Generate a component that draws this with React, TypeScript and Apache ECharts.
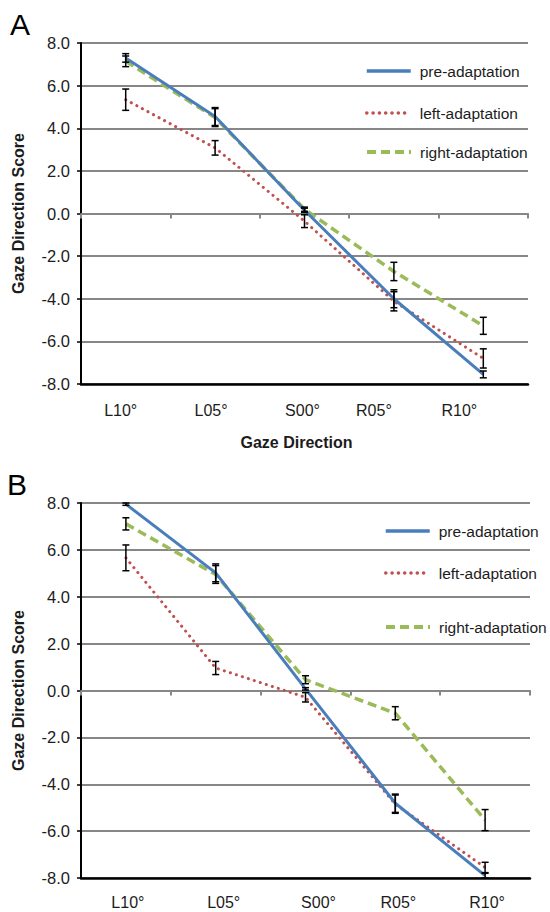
import React, { useEffect, useRef } from "react";
import * as echarts from "echarts";

const categories = ["L10°", "L05°", "S00°", "R05°", "R10°"];
const yTicks = [-8, -6, -4, -2, 0, 2, 4, 6, 8];

// Panel A
const aPre = [7.3, 4.55, 0.15, -4.0, -7.55];
const aLeft = [5.34, 3.08, -0.36, -4.12, -6.8];
const aRight = [7.14, 4.5, 0.2, -2.72, -5.27];
const aPreErr = [0.2, 0.42, 0.1, 0.42, 0.16];
const aLeftErr = [0.5, 0.34, 0.3, 0.45, 0.45];
const aRightErr = [0.25, 0.42, 0.1, 0.43, 0.4];

// Panel B
const bPre = [7.95, 5.02, 0.07, -4.81, -7.9];
const bLeft = [5.66, 0.96, -0.29, -4.85, -7.55];
const bRight = [7.11, 4.95, 0.46, -0.97, -5.53];
const bPreErr = [0.05, 0.38, 0.05, 0.39, 0.1];
const bLeftErr = [0.55, 0.28, 0.2, 0.39, 0.22];
const bRightErr = [0.26, 0.38, 0.17, 0.28, 0.45];

const seriesNames = ["pre-adaptation", "left-adaptation", "right-adaptation"];

// label nudges as seen in the figure
const aLabelShift = [-5, -4, -2, -20, -24];
const bLabelShift = [2, 8, 13, 3, 2];

const FONT = "'Liberation Sans', Arial, Helvetica, sans-serif";
const TXT = "#1c1c1c";
const GRID = "#878787";

const lineStyles: any[] = [
  { color: "#4A7EBB", width: 3, type: "solid" },
  { color: "#C0504D", width: 3, type: [0.1, 6.2], cap: "round" },
  { color: "#9BBB59", width: 3.5, type: [9, 5] },
];

function richFor(shifts: number[]) {
  const r: any = {};
  shifts.forEach((d, i) => {
    r["s" + i] = {
      fontSize: 16,
      fontFamily: FONT,
      color: TXT,
      padding: d >= 0 ? [0, 0, 0, 2 * d] : [0, -2 * d, 0, 0],
    };
  });
  return r;
}

function errRender(params: any, api: any) {
  const x = api.value(0);
  const v = api.value(1);
  const e = api.value(2);
  const t = api.coord([x, v + e]);
  const b = api.coord([x, v - e]);
  const w = 3.5;
  const st = { stroke: "#000", lineWidth: 1.5 };
  return {
    type: "group",
    children: [
      { type: "line", shape: { x1: t[0], y1: t[1], x2: b[0], y2: b[1] }, style: st },
      { type: "line", shape: { x1: t[0] - w, y1: t[1], x2: t[0] + w, y2: t[1] }, style: st },
      { type: "line", shape: { x1: b[0] - w, y1: b[1], x2: b[0] + w, y2: b[1] }, style: st },
    ],
  };
}

function buildPanel(vals: number[][], errs: number[][], xIdx: number, yIdx: number) {
  const out: any[] = [];
  vals.forEach((v, k) => {
    out.push({
      type: "line",
      name: seriesNames[k],
      xAxisIndex: xIdx,
      yAxisIndex: yIdx,
      data: v,
      symbol: "none",
      showSymbol: false,
      lineStyle: lineStyles[k],
      itemStyle: { color: lineStyles[k].color },
      z: 5 - k,
    });
  });
  vals.forEach((v, k) => {
    out.push({
      type: "custom",
      name: "err" + xIdx + "_" + k,
      xAxisIndex: xIdx,
      yAxisIndex: yIdx,
      renderItem: errRender,
      encode: { x: 0, y: 1 },
      data: v.map((val, i) => [i, val, errs[k][i]]),
      z: 10,
    });
  });
  return out;
}

function yAxisFor(gridIndex: number) {
  return {
    type: "value",
    gridIndex,
    min: -8,
    max: 8,
    interval: 2,
    name: "Gaze Direction Score",
    nameLocation: "middle",
    nameGap: 55,
    nameTextStyle: { fontSize: 16, fontWeight: "bold", fontFamily: FONT, color: TXT },
    axisLine: { show: true, lineStyle: { color: "#000", width: 2 } },
    axisTick: { show: true, length: 4, lineStyle: { color: "#000", width: 1.5 } },
    axisLabel: {
      fontSize: 16.5,
      fontFamily: FONT,
      color: TXT,
      margin: 11,
      formatter: (v: number) => (yTicks.includes(v) ? v.toFixed(1) : ""),
    },
    splitLine: { show: true, lineStyle: { color: GRID, width: 2 } },
  };
}

function xAxesFor(gridIndex: number, shifts: number[], margin: number, withName: boolean) {
  return [
    {
      type: "category",
      gridIndex,
      data: categories,
      boundaryGap: true,
      position: "bottom",
      name: withName ? "Gaze Direction" : "",
      nameLocation: "middle",
      nameGap: 50,
      nameTextStyle: { fontSize: 16, fontWeight: "bold", fontFamily: FONT, color: TXT, padding: [0, 16, 0, 0] },
      axisLine: { show: true, onZero: false, lineStyle: { color: "#000", width: 2.5 } },
      axisTick: { show: false },
      axisLabel: {
        margin,
        interval: 0,
        formatter: (v: string, i: number) => `{s${i}|${v}}`,
        rich: richFor(shifts),
      },
      splitLine: { show: false },
    },
    {
      type: "category",
      gridIndex,
      data: categories,
      boundaryGap: true,
      position: "bottom",
      axisLine: { show: true, onZero: true, lineStyle: { color: GRID, width: 2 } },
      axisTick: { show: true, length: 5, inside: false, lineStyle: { color: GRID, width: 2 } },
      axisLabel: { show: false },
      splitLine: { show: false },
    },
  ];
}

function legendsFor(left: number, rows: number[]) {
  return seriesNames.map((n, k) => ({
    data: [n],
    left,
    top: rows[k] - 8,
    itemWidth: 44,
    itemHeight: 16,
    selectedMode: false,
    itemStyle: { opacity: 0 },
    lineStyle: { width: lineStyles[k].width + 0.5 },
    textStyle: {
      fontSize: 15.5,
      fontFamily: FONT,
      color: TXT,
      padding: [0, 0, 0, 4],
    },
  }));
}

export default function App() {
  const ref = useRef<HTMLDivElement>(null);
  useEffect(() => {
    document.body.style.margin = "0";
    const chart = echarts.init(ref.current!, undefined, { renderer: "svg" });
    const option: any = {
      animation: false,
      backgroundColor: "#fff",
      textStyle: { fontFamily: FONT },
      grid: [
        { left: 81, top: 43, width: 447, height: 341 },
        { left: 81, top: 503, width: 449, height: 375 },
      ],
      xAxis: [
        ...xAxesFor(0, aLabelShift, 18, true),
        ...xAxesFor(1, bLabelShift, 16, false),
      ],
      yAxis: [yAxisFor(0), yAxisFor(1)],
      legend: [
        ...legendsFor(360, [66, 108, 147]),
        ...legendsFor(379, [526, 568, 622]),
      ],
      graphic: [
        { type: "text", left: 10, top: 9, style: { text: "A", fontSize: 30, fontFamily: FONT, fill: "#000" } },
        { type: "text", left: 7, top: 469, style: { text: "B", fontSize: 30, fontFamily: FONT, fill: "#000" } },
      ],
      series: [
        ...buildPanel([aPre, aLeft, aRight], [aPreErr, aLeftErr, aRightErr], 0, 0),
        ...buildPanel([bPre, bLeft, bRight], [bPreErr, bLeftErr, bRightErr], 2, 1),
      ],
    };
    chart.setOption(option);
    return () => chart.dispose();
  }, []);
  return <div ref={ref} style={{ width: 550, height: 912 }} />;
}
